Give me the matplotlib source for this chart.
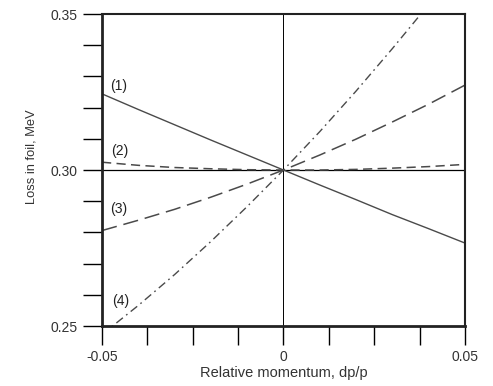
import matplotlib
matplotlib.use("Agg")
import matplotlib.pyplot as plt
import numpy as np

x = [-0.05, -0.04, -0.03, -0.02, -0.01, 0.0, 0.01, 0.02, 0.03, 0.04, 0.05]
curve1 = [0.3244, 0.3194, 0.3145, 0.3096, 0.3048, 0.3000, 0.2952, 0.2905, 0.2857, 0.2812, 0.2766]
curve2 = [0.3025, 0.3015, 0.3008, 0.3004, 0.3001, 0.3000, 0.3000, 0.3002, 0.3006, 0.3011, 0.3018]
curve3 = [0.2806, 0.2839, 0.2874, 0.2913, 0.2955, 0.3000, 0.3048, 0.3099, 0.3154, 0.3211, 0.3272]
curve4 = [0.2473, 0.2566, 0.2665, 0.2771, 0.2883, 0.3000, 0.3123, 0.3253, 0.3389, 0.3530, 0.3678]
labels = ["(1)", "(2)", "(3)", "(4)"]
label_pos = [(-0.0478, 0.3269), (-0.0476, 0.3061), (-0.0478, 0.2875), (-0.0472, 0.2580)]
xticks = [-0.05, -0.0375, -0.025, -0.0125, 0.0, 0.0125, 0.025, 0.0375, 0.05]
xticklabels = ["-0.05", "", "", "", "0", "", "", "", "0.05"]
yticks = [0.25, 0.26, 0.27, 0.28, 0.29, 0.30, 0.31, 0.32, 0.33, 0.34, 0.35]
yticklabels = ["0.25", "", "", "", "", "0.30", "", "", "", "", "0.35"]

plt.rcParams['font.family'] = ['Liberation Sans', 'DejaVu Sans']

fig = plt.figure(figsize=(4.93, 3.86), dpi=100)
ax = fig.add_axes([0.207, 0.1554, 0.736, 0.8083])

col = '#4a4a4a'
ax.axhline(0.30, color='black', lw=0.9, zorder=1)
ax.axvline(0.0, color='black', lw=0.7, zorder=1)
ax.plot(x, curve1, color=col, lw=1.0, ls='-')
ax.plot(x, curve2, color=col, lw=1.1, ls=(0, (6, 3.5)))
ax.plot(x, curve3, color=col, lw=1.1, ls=(0, (10, 4.5)))
ax.plot(x, curve4, color=col, lw=1.0, ls=(0, (6, 3, 1.2, 3)))

for t, (px, py) in zip(labels, label_pos):
    ax.text(px, py, t, fontsize=10, color='#222222', ha='left', va='center')

ax.set_xlim(-0.05, 0.05)
ax.set_ylim(0.25, 0.35)
ax.set_xticks(xticks)
ax.set_xticklabels(xticklabels)
ax.set_yticks(yticks)
ax.set_yticklabels(yticklabels)
ax.tick_params(direction='out', length=13.5, width=1.0, labelsize=10, colors='black', labelcolor='#333333')
ax.tick_params(axis='y', pad=4)
ax.tick_params(axis='x', pad=3.5)
for s in ax.spines.values():
    s.set_linewidth(1.5)
    s.set_color('#222222')
ax.spines['left'].set_linewidth(2.0)
ax.spines['bottom'].set_linewidth(2.0)

ax.set_xlabel("Relative momentum, dp/p", fontsize=10.5, color='#333333')
ax.xaxis.set_label_coords(0.5, -0.128)
ax.set_ylabel("Loss in foil, MeV", fontsize=9.3, color='#333333')
ax.yaxis.set_label_coords(-0.179, 0.542)

fig.savefig("out.png", dpi=100)
